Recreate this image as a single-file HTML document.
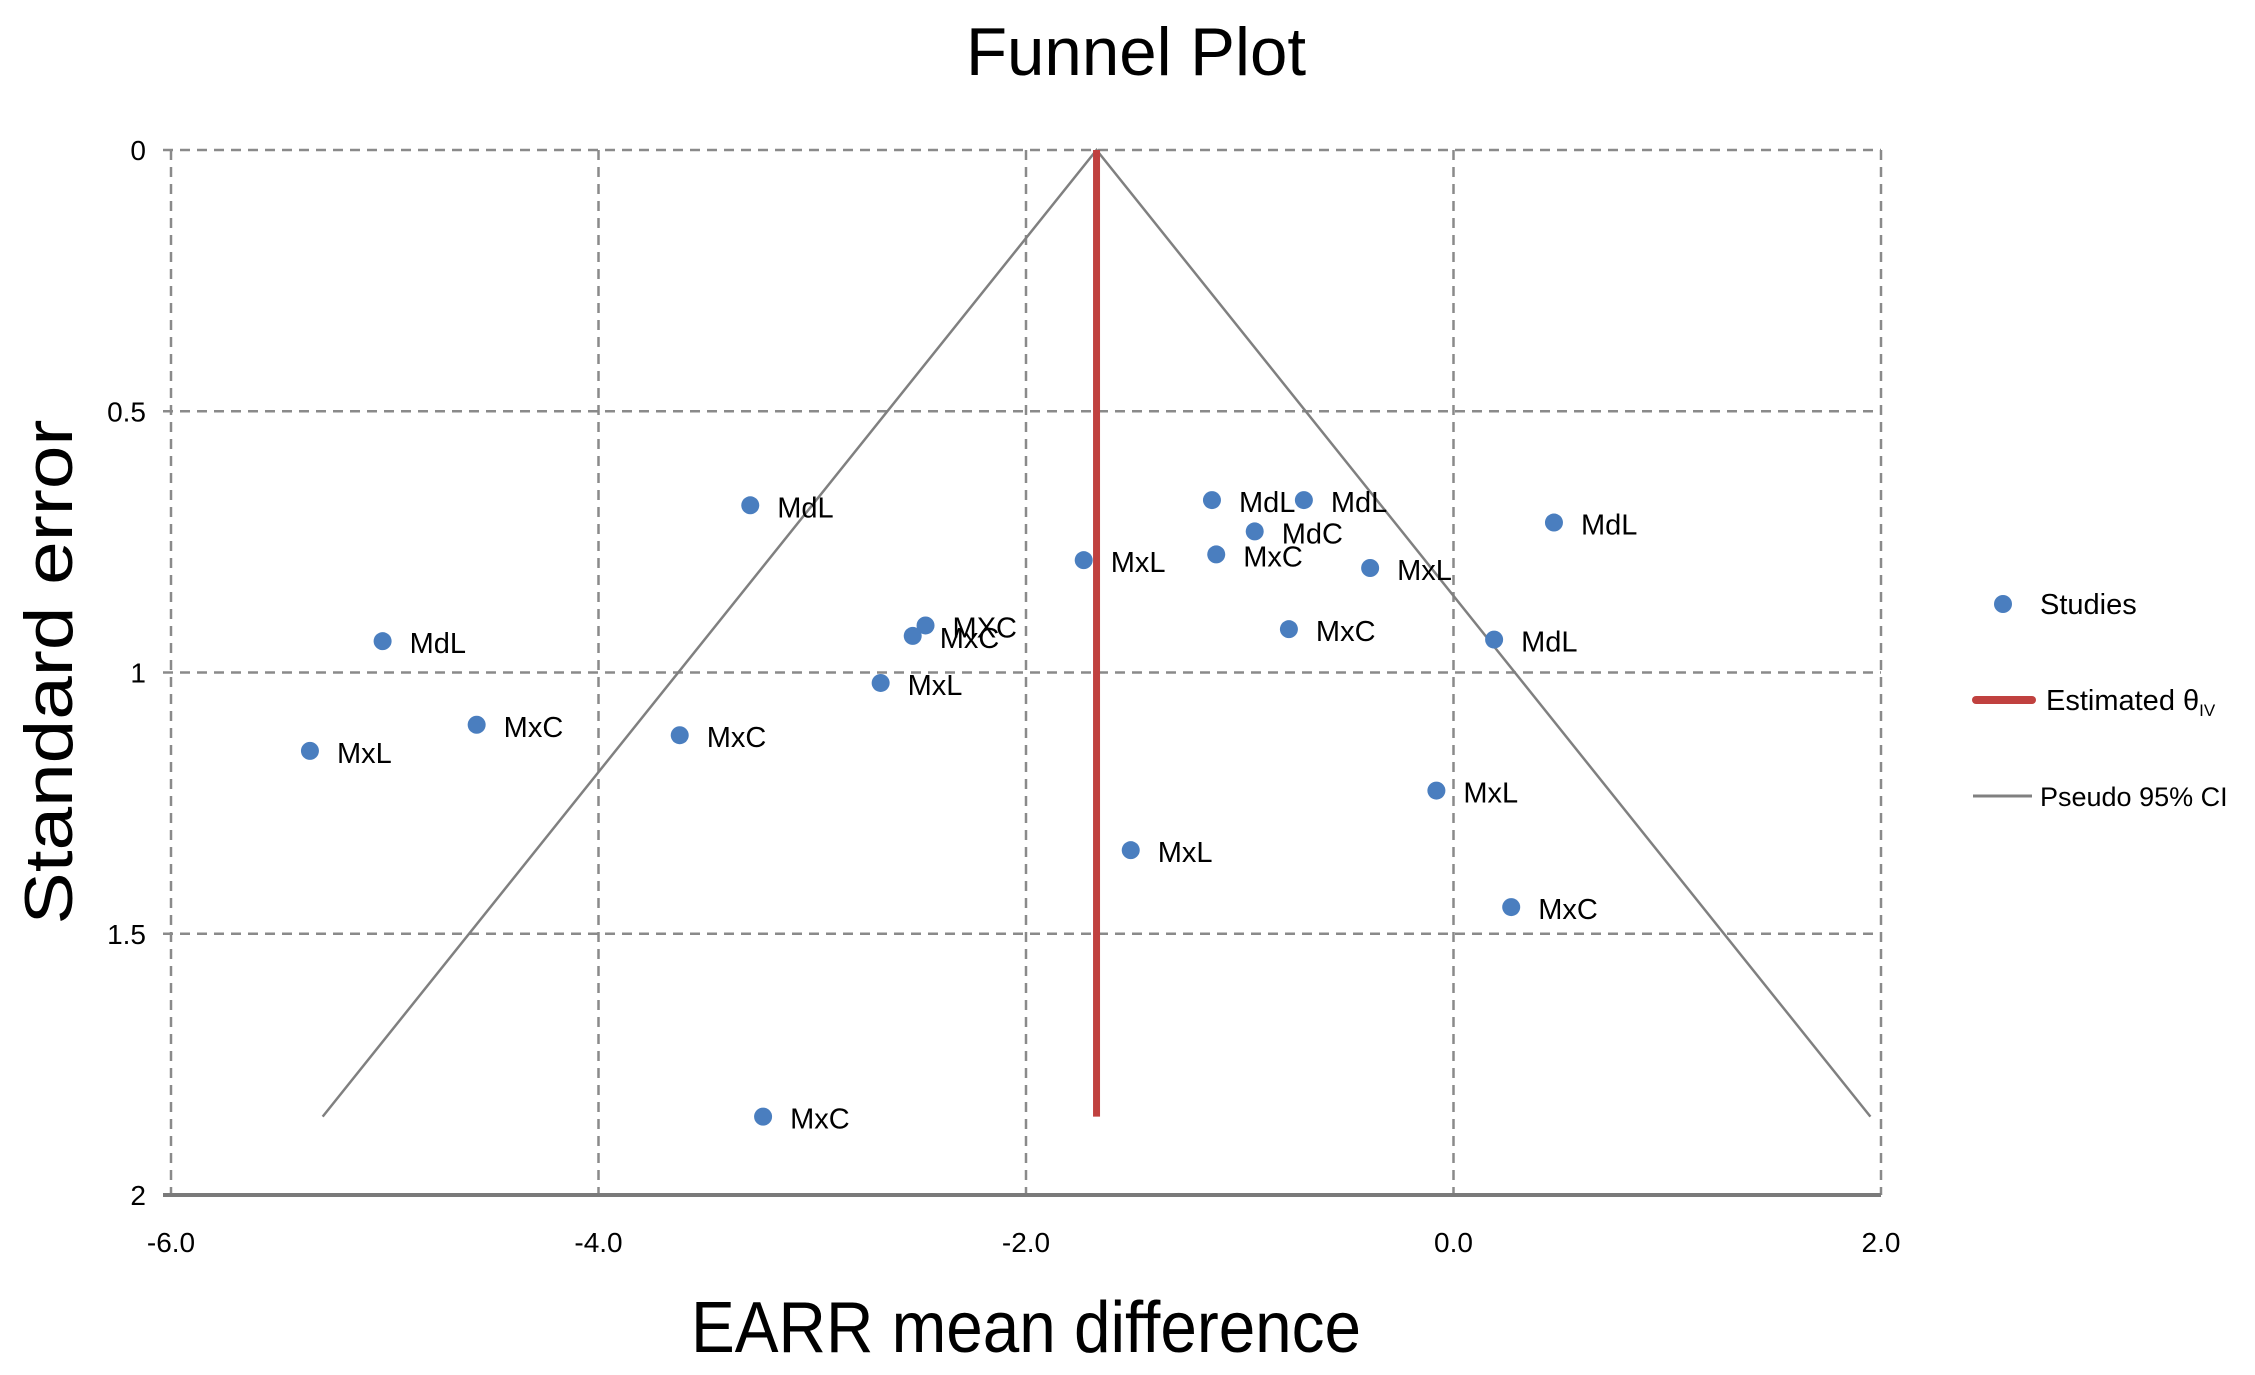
<!DOCTYPE html>
<html><head><meta charset="utf-8"><style>
html,body{margin:0;padding:0;background:#fff;}
svg{display:block;font-family:"Liberation Sans",sans-serif;}
</style></head><body>
<svg id="chart" width="2255" height="1375" viewBox="0 0 2255 1375">
<text x="1136" y="75" font-size="68" text-anchor="middle" textLength="340" lengthAdjust="spacingAndGlyphs">Funnel Plot</text>
<text transform="translate(72,672) rotate(-90)" font-size="68" text-anchor="middle" textLength="505" lengthAdjust="spacingAndGlyphs">Standard error</text>
<text x="1026" y="1352" font-size="72" text-anchor="middle" textLength="670" lengthAdjust="spacingAndGlyphs">EARR mean difference</text>
<g id="grid"></g>
<g id="axes"></g>
<g id="marks"></g>
<g>
<circle cx="2003" cy="604" r="9" fill="#4a7ebf"/>
<text x="2040" y="614" font-size="29">Studies</text>
<line x1="1976" y1="700" x2="2032" y2="700" stroke="#c0413f" stroke-width="8" stroke-linecap="round"/>
<text x="2046" y="710" font-size="29">Estimated θ<tspan font-size="17" dy="6">IV</tspan></text>
<line x1="1973" y1="796" x2="2032" y2="796" stroke="#808080" stroke-width="3"/>
<text x="2040" y="806" font-size="27">Pseudo 95% CI</text>
</g>
</svg>
<script>
const xTicks=[-6,-4,-2,0,2];
const xTickLabels=["-6.0","-4.0","-2.0","0.0","2.0"];
const yTicks=[0,0.5,1,1.5,2];
const yTickLabels=["0","0.5","1","1.5","2"];
const studyX=[-3.29,-5.01,-5.35,-4.57,-3.62,-2.68,-2.53,-2.47,-3.23,-1.73,-1.51,-1.13,-0.70,-0.93,-1.11,-0.39,-0.77,0.19,0.47,-0.08,0.27];
const studySE=[0.68,0.94,1.15,1.10,1.12,1.02,0.93,0.91,1.85,0.785,1.34,0.67,0.67,0.73,0.774,0.80,0.917,0.937,0.713,1.226,1.449];
const studyLabels=["MdL","MdL","MxL","MxC","MxC","MxL","MxC","MXC","MxC","MxL","MxL","MdL","MdL","MdC","MxC","MxL","MxC","MdL","MdL","MxL","MxC"];
const theta=[-1.67];
const seMax=[1.85];
const ciZ=[1.957];

const X0=171,X1=1881,Y0=150,Y1=1195;
const xs=v=>X0+(v-(-6))/(2-(-6))*(X1-X0);
const ys=v=>Y0+(v-0)/(2-0)*(Y1-Y0);
const NS="http://www.w3.org/2000/svg";
function mk(tag,attrs,parent){const e=document.createElementNS(NS,tag);for(const k in attrs)e.setAttribute(k,attrs[k]);parent.appendChild(e);return e;}
const grid=document.getElementById('grid'),axes=document.getElementById('axes'),marks=document.getElementById('marks');
xTicks.forEach((t,i)=>{
  const l=mk('line',{x1:xs(t),y1:Y0,x2:xs(t),y2:Y1,stroke:'#8a8a8a','stroke-width':2.5,'stroke-dasharray':'10 7'},grid);
  
  
  const tx=mk('text',{x:xs(t),y:1252,'font-size':28,'text-anchor':'middle'},axes);
  tx.textContent=xTickLabels[i];
  
  
});
yTicks.forEach((t,i)=>{
  if(t!==2){
  const l=mk('line',{x1:X0-8,y1:ys(t),x2:X1,y2:ys(t),stroke:'#8a8a8a','stroke-width':2.5,'stroke-dasharray':'10 7'},grid);
  
  }
  const tx=mk('text',{x:146,y:ys(t)+10,'font-size':28,'text-anchor':'end'},axes);
  tx.textContent=yTickLabels[i];
  
  
});
const xa=mk('line',{x1:X0-8,y1:Y1,x2:X1,y2:Y1,stroke:'#7a7a7a','stroke-width':4},axes);


const half=ciZ[0]*seMax[0];
const ci=mk('polyline',{points:`${xs(theta[0]-half)},${ys(seMax[0])} ${xs(theta[0])},${ys(0)} ${xs(theta[0]+half)},${ys(seMax[0])}`,fill:'none',stroke:'#808080','stroke-width':2.5},marks);


const est=mk('line',{x1:xs(theta[0]),y1:ys(0),x2:xs(theta[0]),y2:ys(seMax[0]),stroke:'#c0413f','stroke-width':7},marks);


studyX.forEach((v,i)=>{
  const c=mk('circle',{cx:xs(v),cy:ys(studySE[i]),r:9,fill:'#4a7ebf'},marks);
  
  
  const t=mk('text',{x:xs(v)+27,y:ys(studySE[i])+12,'font-size':29},marks);
  t.textContent=studyLabels[i];
  
  
});
</script>
</body></html>
